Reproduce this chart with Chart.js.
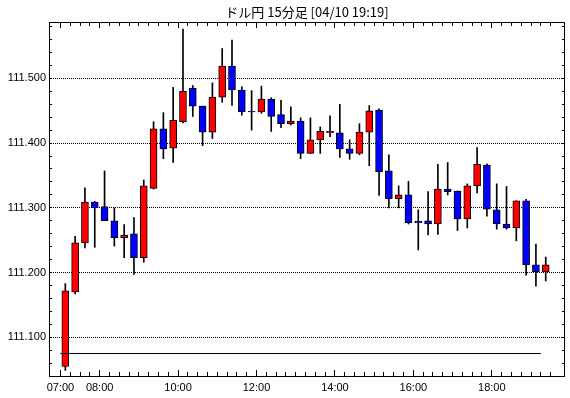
<!DOCTYPE html>
<html>
<head>
<meta charset="utf-8">
<script src="https://cdn.jsdelivr.net/npm/chart.js@4.4.0/dist/chart.umd.min.js"></script>
<style>
  html, body { margin: 0; padding: 0; background: #fff; }
  canvas { display: block; }
</style>
</head>
<body>
<canvas id="chart-candle" width="570" height="398"></canvas>
<script>

	// 15 minute candles, start time of each bar
	var times = ["07:00","07:15","07:30","07:45","08:00","08:15","08:30","08:45",
		"09:00","09:15","09:30","09:45","10:00","10:15","10:30","10:45",
		"11:00","11:15","11:30","11:45","12:00","12:15","12:30","12:45",
		"13:00","13:15","13:30","13:45","14:00","14:15","14:30","14:45",
		"15:00","15:15","15:30","15:45","16:00","16:15","16:30","16:45",
		"17:00","17:15","17:30","17:45","18:00","18:15","18:30","18:45",
		"19:00","19:15"];

	var opens  = [111.055,111.170,111.246,111.309,111.302,111.280,111.254,111.260,
		111.223,111.330,111.422,111.392,111.433,111.485,111.457,111.417,
		111.471,111.519,111.482,111.449,111.448,111.468,111.444,111.430,
		111.434,111.384,111.405,111.416,111.416,111.391,111.384,111.417,
		111.451,111.357,111.314,111.320,111.279,111.280,111.275,111.329,
		111.326,111.283,111.334,111.366,111.297,111.275,111.269,111.311,
		111.212,111.201];
	var highs  = [111.183,111.256,111.331,111.310,111.357,111.300,111.274,111.285,
		111.343,111.433,111.447,111.486,111.576,111.489,111.457,111.493,
		111.546,111.559,111.487,111.481,111.488,111.470,111.466,111.456,
		111.439,111.439,111.425,111.442,111.460,111.405,111.430,111.458,
		111.453,111.382,111.334,111.341,111.297,111.325,111.367,111.370,
		111.326,111.337,111.393,111.368,111.337,111.333,111.311,111.313,
		111.244,111.224];
	var lows   = [111.049,111.167,111.238,111.239,111.280,111.241,111.223,111.197,
		111.216,111.329,111.376,111.370,111.431,111.441,111.396,111.407,
		111.463,111.458,111.443,111.420,111.446,111.418,111.424,111.428,
		111.376,111.384,111.384,111.410,111.378,111.375,111.382,111.365,
		111.319,111.300,111.300,111.275,111.235,111.258,111.259,111.320,
		111.265,111.269,111.323,111.287,111.267,111.267,111.249,111.196,
		111.179,111.187];
	var closes = [111.172,111.246,111.309,111.300,111.280,111.254,111.258,111.223,
		111.334,111.422,111.391,111.435,111.480,111.457,111.417,111.471,
		111.519,111.482,111.448,111.448,111.468,111.441,111.430,111.434,
		111.384,111.405,111.418,111.418,111.391,111.384,111.417,111.450,
		111.356,111.314,111.320,111.277,111.277,111.275,111.329,111.325,
		111.283,111.334,111.367,111.298,111.275,111.269,111.311,111.212,
		111.201,111.212];

	// horizontal reference line
	var refLevel = 111.075;
	var refFrom = "07:00";
	var refTo = "19:15";

	// axis labels
	var xLabels = ["07:00","08:00","10:00","12:00","14:00","16:00","18:00"];
	var yLabels = [111.100, 111.200, 111.300, 111.400, 111.500];

	var titleText = "ドル円 15分足 [04/10 19:19]";

	var slot = 0.25;      // 15 min in hours
	var yMinor = 0.02;

	function toHours(t) {
		var p = t.split(":");
		return parseInt(p[0], 10) + parseInt(p[1], 10) / 60;
	}

	var xMin = 6.8375, xMax = 19.7375;
	var yMin = 111.0403, yMax = 111.587;

	var bodyData = [], wickData = [], bodyColors = [];
	for (var i = 0; i < times.length; i++) {
		var cx = toHours(times[i]) + slot / 2;
		bodyData.push({ x: cx, y: [opens[i], closes[i]] });
		wickData.push({ x: cx, y: [lows[i], highs[i]] });
		bodyColors.push(closes[i] > opens[i] ? "#ff0000" : "#0000ff");
	}

	function isLabeledY(v) {
		return yLabels.some(function (l) { return Math.abs(l - v) < 1e-6; });
	}
	function isLabeledX(v) {
		return xLabels.some(function (l) { return Math.abs(toHours(l) - v) < 1e-6; });
	}

	// inward tick marks + frame
	var framePlugin = {
		id: "frame",
		afterDraw: function (chart) {
			var ctx = chart.ctx;
			var a = chart.chartArea;
			var l = Math.round(a.left), r = Math.round(a.right);
			var t = Math.round(a.top), b = Math.round(a.bottom);
			ctx.save();
			ctx.strokeStyle = "#000";
			ctx.lineWidth = 1;
			ctx.beginPath();
			chart.scales.x.ticks.forEach(function (tk) {
				var px = Math.floor(chart.scales.x.getPixelForValue(tk.value)) + 0.5;
				var len = isLabeledX(tk.value) ? 6 : 4;
				ctx.moveTo(px, t); ctx.lineTo(px, t + len);
				ctx.moveTo(px, b); ctx.lineTo(px, b - len);
			});
			chart.scales.y.ticks.forEach(function (tk) {
				var py = Math.floor(chart.scales.y.getPixelForValue(tk.value)) + 0.5;
				ctx.moveTo(l, py); ctx.lineTo(l + 3, py);
				ctx.moveTo(r, py); ctx.lineTo(r - 3, py);
			});
			ctx.stroke();
			ctx.strokeRect(l + 0.5, t + 0.5, r - l - 1, b - t);
			ctx.restore();
		}
	};

	var ctx = document.getElementById("chart-candle").getContext("2d");

	new Chart(ctx, {
		data: {
			datasets: [{
				type: "line",
				label: "ref",
				data: [{ x: toHours(refFrom), y: refLevel }, { x: toHours(refTo), y: refLevel }],
				borderColor: "#000",
				borderWidth: 1,
				pointRadius: 0,
				order: 0
			}, {
				type: "bar",
				label: "body",
				data: bodyData,
				backgroundColor: bodyColors,
				borderColor: "#000",
				borderWidth: 1,
				borderSkipped: false,
				barThickness: 7,
				grouped: false,
				order: 1
			}, {
				type: "bar",
				label: "wick",
				data: wickData,
				backgroundColor: "#000",
				borderWidth: 0,
				barThickness: 1,
				grouped: false,
				order: 2
			}]
		},
		plugins: [framePlugin],
		options: {
			responsive: false,
			animation: false,
			layout: { padding: { left: 0, right: 5, top: 0, bottom: 0 } },
			plugins: {
				legend: { display: false },
				tooltip: { enabled: false },
				title: {
					display: true,
					text: titleText,
					fullSize: false,
					color: "#000",
					font: { family: "'Noto Sans CJK JP'", size: 13, weight: "normal", lineHeight: 1.2 },
					padding: { top: 4, bottom: 2.4 }
				}
			},
			scales: {
				x: {
					type: "linear",
					min: xMin,
					max: xMax,
					afterFit: function (s) { s.height = 22; },
					afterBuildTicks: function (s) {
						var tk = [];
						for (var h = toHours(times[0]); h <= xMax; h += slot) tk.push({ value: h });
						s.ticks = tk;
					},
					grid: { display: false, drawTicks: false },
					border: { display: false },
					ticks: {
						autoSkip: false,
						maxRotation: 0,
						padding: 5,
						color: "#000",
						font: { family: "'Liberation Sans'", size: 11 },
						callback: function (v) {
							for (var k = 0; k < xLabels.length; k++) {
								if (Math.abs(toHours(xLabels[k]) - v) < 1e-6) return xLabels[k];
							}
							return "";
						}
					}
				},
				y: {
					type: "linear",
					min: yMin,
					max: yMax,
					afterFit: function (s) { s.width = 49; },
					afterBuildTicks: function (s) {
						var tk = [];
						for (var v = 111.06; v < yMax; v += yMinor) tk.push({ value: Math.round(v * 1000) / 1000 });
						s.ticks = tk;
					},
					grid: {
						display: true,
						drawTicks: false,
						drawOnChartArea: true,
						lineWidth: 1,
						borderDash: [1, 1],
						color: function (c) {
							return c.tick && isLabeledY(c.tick.value) ? "#000" : "rgba(0,0,0,0)";
						}
					},
					border: { display: false, dash: [1, 1] },
					ticks: {
						autoSkip: false,
						padding: 3,
						color: "#000",
						font: { family: "'Liberation Sans'", size: 11 },
						callback: function (v) {
							return isLabeledY(v) ? v.toFixed(3) : "";
						}
					}
				}
			}
		}
	});

</script>
</body>
</html>
